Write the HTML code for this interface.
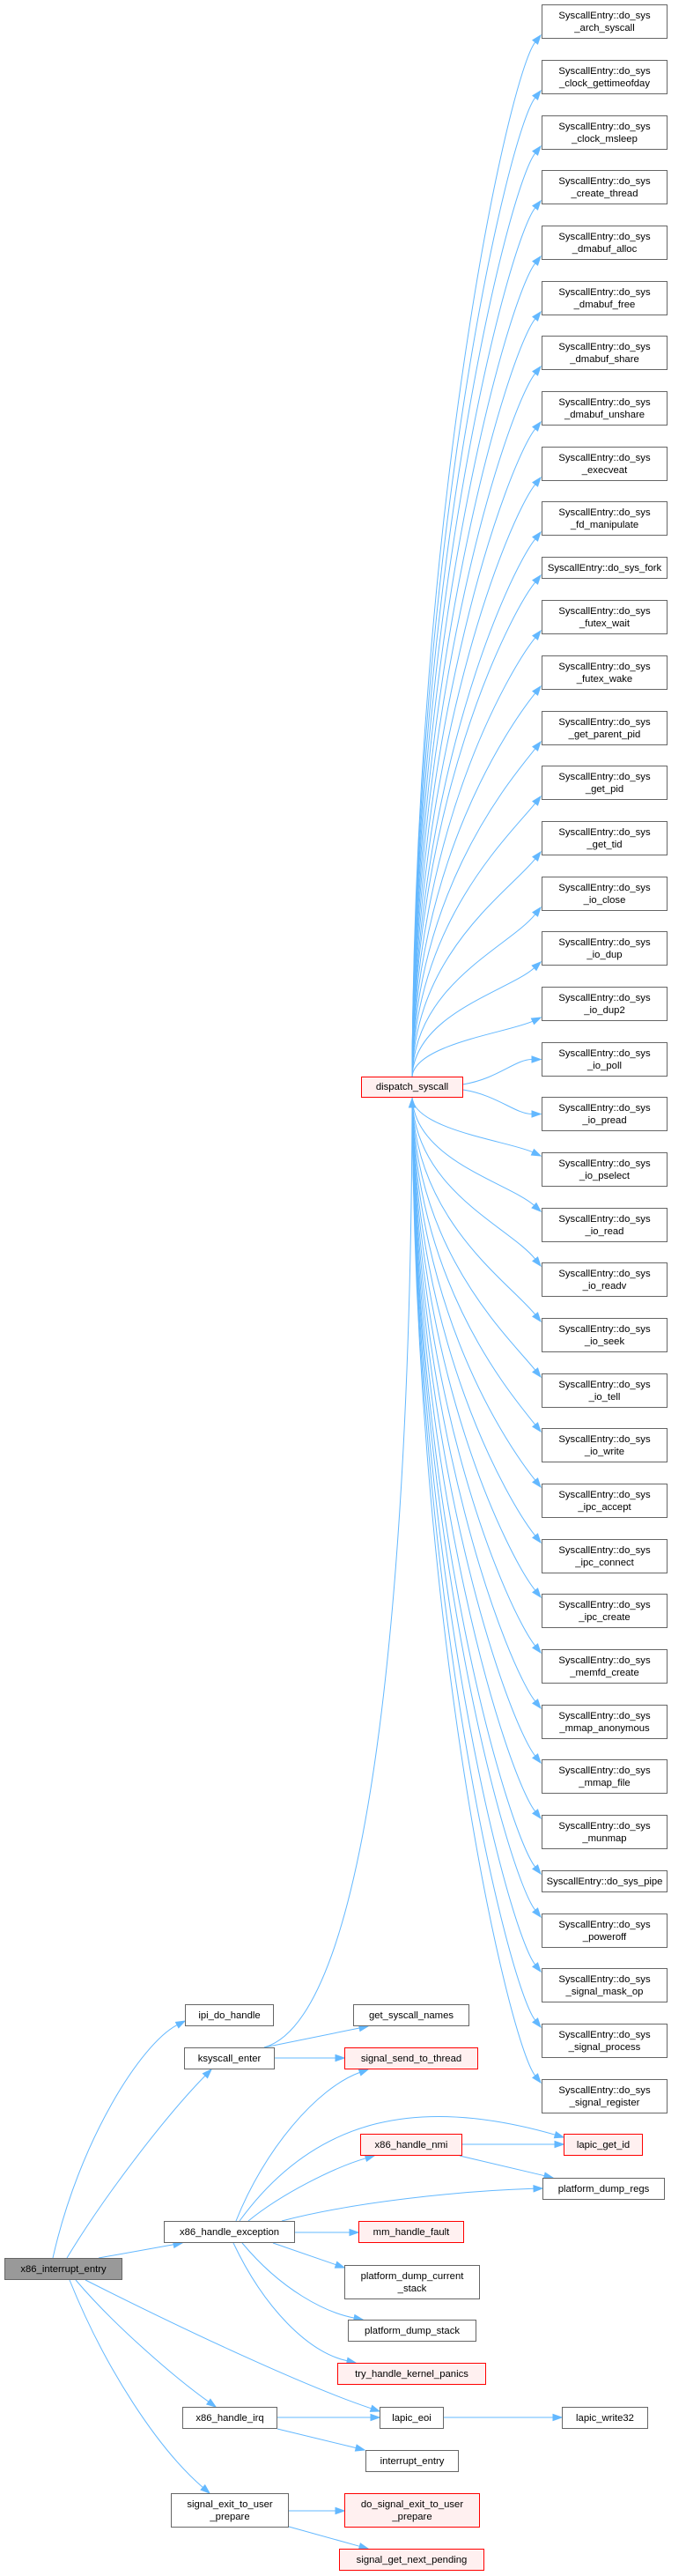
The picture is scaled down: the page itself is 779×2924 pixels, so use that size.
<!DOCTYPE html>
<html><head><meta charset="utf-8">
<style>
html,body{margin:0;padding:0;background:#fff;}
body{width:779px;height:2924px;position:relative;overflow:hidden;font-family:"Liberation Sans",Arial,sans-serif;}
.n{position:absolute;box-sizing:border-box;border:1px solid #666;background:#fff;font-size:11.3px;line-height:14px;color:#000;text-align:center;display:flex;align-items:center;justify-content:center;white-space:nowrap;}
.r{border-color:#ff0000;background:#fff0f0;}
.g{background:#999;border-color:#666;}
svg{position:absolute;left:0;top:0;}
</style></head><body>
<svg id="s" width="779" height="2924"></svg>

<div class="n" style="left:615px;top:5px;width:143px;height:39px">SyscallEntry::do_sys<br>_arch_syscall</div>
<div class="n" style="left:615px;top:68px;width:143px;height:39px">SyscallEntry::do_sys<br>_clock_gettimeofday</div>
<div class="n" style="left:615px;top:131px;width:143px;height:39px">SyscallEntry::do_sys<br>_clock_msleep</div>
<div class="n" style="left:615px;top:193px;width:143px;height:39px">SyscallEntry::do_sys<br>_create_thread</div>
<div class="n" style="left:615px;top:256px;width:143px;height:39px">SyscallEntry::do_sys<br>_dmabuf_alloc</div>
<div class="n" style="left:615px;top:319px;width:143px;height:39px">SyscallEntry::do_sys<br>_dmabuf_free</div>
<div class="n" style="left:615px;top:381px;width:143px;height:39px">SyscallEntry::do_sys<br>_dmabuf_share</div>
<div class="n" style="left:615px;top:444px;width:143px;height:39px">SyscallEntry::do_sys<br>_dmabuf_unshare</div>
<div class="n" style="left:615px;top:507px;width:143px;height:39px">SyscallEntry::do_sys<br>_execveat</div>
<div class="n" style="left:615px;top:569px;width:143px;height:39px">SyscallEntry::do_sys<br>_fd_manipulate</div>
<div class="n" style="left:615px;top:632px;width:143px;height:25px">SyscallEntry::do_sys_fork</div>
<div class="n" style="left:615px;top:681px;width:143px;height:39px">SyscallEntry::do_sys<br>_futex_wait</div>
<div class="n" style="left:615px;top:744px;width:143px;height:39px">SyscallEntry::do_sys<br>_futex_wake</div>
<div class="n" style="left:615px;top:807px;width:143px;height:39px">SyscallEntry::do_sys<br>_get_parent_pid</div>
<div class="n" style="left:615px;top:869px;width:143px;height:39px">SyscallEntry::do_sys<br>_get_pid</div>
<div class="n" style="left:615px;top:932px;width:143px;height:39px">SyscallEntry::do_sys<br>_get_tid</div>
<div class="n" style="left:615px;top:995px;width:143px;height:39px">SyscallEntry::do_sys<br>_io_close</div>
<div class="n" style="left:615px;top:1057px;width:143px;height:39px">SyscallEntry::do_sys<br>_io_dup</div>
<div class="n" style="left:615px;top:1120px;width:143px;height:39px">SyscallEntry::do_sys<br>_io_dup2</div>
<div class="n" style="left:615px;top:1183px;width:143px;height:39px">SyscallEntry::do_sys<br>_io_poll</div>
<div class="n" style="left:615px;top:1245px;width:143px;height:39px">SyscallEntry::do_sys<br>_io_pread</div>
<div class="n" style="left:615px;top:1308px;width:143px;height:39px">SyscallEntry::do_sys<br>_io_pselect</div>
<div class="n" style="left:615px;top:1371px;width:143px;height:39px">SyscallEntry::do_sys<br>_io_read</div>
<div class="n" style="left:615px;top:1433px;width:143px;height:39px">SyscallEntry::do_sys<br>_io_readv</div>
<div class="n" style="left:615px;top:1496px;width:143px;height:39px">SyscallEntry::do_sys<br>_io_seek</div>
<div class="n" style="left:615px;top:1559px;width:143px;height:39px">SyscallEntry::do_sys<br>_io_tell</div>
<div class="n" style="left:615px;top:1621px;width:143px;height:39px">SyscallEntry::do_sys<br>_io_write</div>
<div class="n" style="left:615px;top:1684px;width:143px;height:39px">SyscallEntry::do_sys<br>_ipc_accept</div>
<div class="n" style="left:615px;top:1747px;width:143px;height:39px">SyscallEntry::do_sys<br>_ipc_connect</div>
<div class="n" style="left:615px;top:1809px;width:143px;height:39px">SyscallEntry::do_sys<br>_ipc_create</div>
<div class="n" style="left:615px;top:1872px;width:143px;height:39px">SyscallEntry::do_sys<br>_memfd_create</div>
<div class="n" style="left:615px;top:1935px;width:143px;height:39px">SyscallEntry::do_sys<br>_mmap_anonymous</div>
<div class="n" style="left:615px;top:1997px;width:143px;height:39px">SyscallEntry::do_sys<br>_mmap_file</div>
<div class="n" style="left:615px;top:2060px;width:143px;height:39px">SyscallEntry::do_sys<br>_munmap</div>
<div class="n" style="left:615px;top:2123px;width:143px;height:25px">SyscallEntry::do_sys_pipe</div>
<div class="n" style="left:615px;top:2172px;width:143px;height:39px">SyscallEntry::do_sys<br>_poweroff</div>
<div class="n" style="left:615px;top:2234px;width:143px;height:39px">SyscallEntry::do_sys<br>_signal_mask_op</div>
<div class="n" style="left:615px;top:2297px;width:143px;height:39px">SyscallEntry::do_sys<br>_signal_process</div>
<div class="n" style="left:615px;top:2360px;width:143px;height:39px">SyscallEntry::do_sys<br>_signal_register</div>

<div class="n g" style="left:5px;top:2563px;width:134px;height:25px">x86_interrupt_entry</div>
<div class="n" style="left:210px;top:2275px;width:101px;height:25px">ipi_do_handle</div>
<div class="n" style="left:209px;top:2324px;width:103px;height:25px">ksyscall_enter</div>
<div class="n" style="left:186px;top:2521px;width:149px;height:25px">x86_handle_exception</div>
<div class="n" style="left:207px;top:2732px;width:108px;height:25px">x86_handle_irq</div>
<div class="n" style="left:194px;top:2830px;width:134px;height:39px">signal_exit_to_user<br>_prepare</div>
<div class="n r" style="left:410px;top:1222px;width:116px;height:24px">dispatch_syscall</div>
<div class="n" style="left:401px;top:2275px;width:132px;height:25px">get_syscall_names</div>
<div class="n r" style="left:391px;top:2324px;width:152px;height:25px">signal_send_to_thread</div>
<div class="n r" style="left:409px;top:2422px;width:116px;height:25px">x86_handle_nmi</div>
<div class="n r" style="left:407px;top:2521px;width:120px;height:25px">mm_handle_fault</div>
<div class="n" style="left:391px;top:2571px;width:154px;height:39px">platform_dump_current<br>_stack</div>
<div class="n" style="left:395px;top:2633px;width:146px;height:25px">platform_dump_stack</div>
<div class="n r" style="left:383px;top:2682px;width:169px;height:25px">try_handle_kernel_panics</div>
<div class="n" style="left:431px;top:2732px;width:73px;height:25px">lapic_eoi</div>
<div class="n" style="left:415px;top:2781px;width:106px;height:25px">interrupt_entry</div>
<div class="n r" style="left:391px;top:2830px;width:154px;height:39px">do_signal_exit_to_user<br>_prepare</div>
<div class="n r" style="left:385px;top:2893px;width:165px;height:25px">signal_get_next_pending</div>
<div class="n r" style="left:640px;top:2422px;width:90px;height:25px">lapic_get_id</div>
<div class="n" style="left:616px;top:2472px;width:139px;height:25px">platform_dump_regs</div>
<div class="n" style="left:638px;top:2732px;width:98px;height:25px">lapic_write32</div>

<script>
(function(){
var s=document.getElementById('s'),out='',C='#63b8ff';
function edge(pts){
  var x0=pts[0],y0=pts[1],a=pts[2],b=pts[3],c=pts[4],d=pts[5],tx=pts[6],ty=pts[7];
  var dx=tx-c,dy=ty-d,l=Math.sqrt(dx*dx+dy*dy)||1;dx/=l;dy/=l;
  var L=10,W=3.6,bx=tx-dx*L,by=ty-dy*L;
  out+='<path d="M'+x0+','+y0+' C'+a+','+b+' '+c+','+d+' '+bx.toFixed(1)+','+by.toFixed(1)+'" fill="none" stroke="'+C+'" stroke-width="1"/>';
  out+='<polygon points="'+tx+','+ty+' '+(bx-dy*W).toFixed(1)+','+(by+dx*W).toFixed(1)+' '+(bx+dy*W).toFixed(1)+','+(by-dx*W).toFixed(1)+'" fill="'+C+'" stroke="'+C+'"/>';
}
function line(x0,y0,x1,y1){edge([x0,y0,(x0*2+x1)/3,(y0*2+y1)/3,(x0+x1*2)/3,(y0+y1*2)/3,x1,y1]);}
var tops=[5,68,131,193,256,319,381,444,507,569,632,681,744,807,869,932,995,1057,1120,1183,1245,1308,1371,1433,1496,1559,1621,1684,1747,1809,1872,1935,1997,2060,2123,2172,2234,2297,2360];
var single={10:1,34:1};
for(var i=0;i<tops.length;i++){
  var h=single[i]?25:39,yc=tops[i]+h/2,d=yc-1234;
  if(Math.abs(d)<90){
    edge([526,1234+d*0.1,565,1234+d*0.3,585,yc,614,yc]);
  } else if(d<0){
    var ty=tops[i]+h-4;
    edge([468,1222,471,ty+(1222-ty)*0.45,578,ty+Math.min(45,(1222-ty)*0.25),614,ty]);
  } else {
    var ty=tops[i]+4;
    edge([468,1246,471,ty-(ty-1246)*0.45,578,ty-Math.min(45,(ty-1246)*0.25),614,ty]);
  }
}
edge([60,2563,90,2430,160,2320,210,2294]);
edge([76,2563,120,2490,190,2400,240,2349]);
line(112,2563,207,2546);
edge([86,2588,130,2640,200,2700,245,2732]);
edge([97,2588,220,2650,350,2710,431,2737]);
edge([79,2588,120,2690,180,2780,238,2830]);
edge([300,2324,420,2290,466,1800,468,1247]);
line(300,2324,418,2300);
line(312,2336,391,2336);
edge([268,2521,300,2440,360,2370,418,2349]);
edge([272,2521,360,2400,480,2380,640,2426]);
edge([282,2521,320,2490,380,2460,425,2447]);
edge([320,2521,400,2500,520,2487,616,2484]);
line(335,2534,407,2534);
line(310,2546,391,2574);
edge([275,2546,320,2600,370,2625,412,2633]);
edge([265,2546,300,2620,350,2670,404,2682]);
line(525,2434,640,2434);
line(522,2447,628,2472);
line(315,2744,431,2744);
line(315,2757,414,2781);
line(504,2744,638,2744);
line(328,2850,391,2850);
line(328,2868,418,2893);
s.innerHTML=out;
})();
</script>
</body></html>
